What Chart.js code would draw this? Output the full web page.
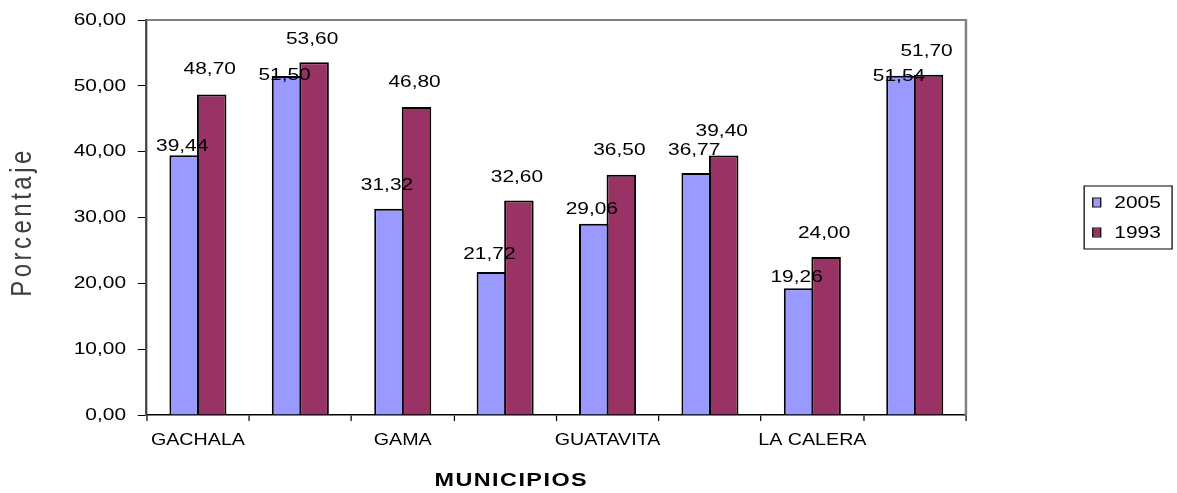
<!DOCTYPE html>
<html>
<head>
<meta charset="utf-8">
<script src="https://cdn.jsdelivr.net/npm/chart.js@4.4.1/dist/chart.umd.min.js"></script>
<style>
  html, body { margin: 0; padding: 0; background: #fff; }
  canvas { display: block; }
</style>
</head>
<body>
<canvas id="chart" width="957" height="493"></canvas>
<script>
// municipios del Guavio - only every second name fits on the axis
const municipios = ['GACHALA', 'GACHETA', 'GAMA', 'GUASCA', 'GUATAVITA', 'JUNIN', 'LA CALERA', 'UBALA'];
const serie2005 = [39.44, 51.50, 31.32, 21.72, 29.06, 36.77, 19.26, 51.54];
const serie1993 = [48.70, 53.60, 46.80, 32.60, 36.50, 39.40, 24.00, 51.70];
const yTicks = [0, 10, 20, 30, 40, 50, 60];

const FONT = '"Liberation Sans", Arial, sans-serif';
const PAGE_W = 1177;
const fmt = v => v.toFixed(2).replace('.', ',');

Chart.defaults.font.family = FONT;
Chart.defaults.color = '#000';

// the original excel picture is stretched sideways, so we lay the chart out
// narrower and stretch the drawing to the page width
const stretch = {
    id: 'stretch',
    beforeDraw(chart) {
        const sx = chart.canvas.width / chart.width;
        chart.ctx.setTransform(sx, 0, 0, 1, 0, 0);
    }
};

// grey frame on top and right of the plot
const frame = {
    id: 'frame',
    beforeDatasetsDraw(chart) {
        const { ctx, chartArea: a } = chart;
        ctx.save();
        ctx.strokeStyle = '#808080';
        ctx.lineWidth = 2;
        ctx.beginPath();
        ctx.moveTo(a.left, a.top);
        ctx.lineTo(a.right, a.top);
        ctx.lineTo(a.right, a.bottom);
        ctx.stroke();
        ctx.restore();
    }
};

// value labels over the bars
const barLabels = {
    id: 'barLabels',
    afterDatasetsDraw(chart, args, opts) {
        const ctx = chart.ctx;
        ctx.save();
        ctx.font = '17px ' + FONT;
        ctx.fillStyle = '#000';
        ctx.textAlign = 'center';
        ctx.textBaseline = 'middle';
        chart.data.datasets.forEach((ds, i) => {
            chart.getDatasetMeta(i).data.forEach((bar, j) => {
                ctx.fillText(fmt(ds.data[j]), bar.x - 1.6, bar.y - opts.lift[i][j]);
            });
        });
        ctx.restore();
    }
};

// axis titles and the boxed legend, drawn by hand
const extras = {
    id: 'extras',
    afterDraw(chart) {
        const { ctx, chartArea: a } = chart;
        ctx.save();
        ctx.textBaseline = 'middle';
        ctx.textAlign = 'center';

        ctx.fillStyle = '#000';
        ctx.font = 'bold 19px ' + FONT;
        ctx.letterSpacing = '1.2px';
        ctx.fillText('MUNICIPIOS', a.left + (a.right - a.left) * 0.445, 481);

        ctx.save();
        ctx.translate(18.7, 222);
        ctx.rotate(-Math.PI / 2);
        ctx.fillStyle = '#404040';
        ctx.font = '24px ' + FONT;
        ctx.letterSpacing = '3.5px';
        ctx.fillText('Porcentaje', 0, 0);
        ctx.restore();

        // legend
        ctx.letterSpacing = '0px';
        ctx.font = '17px ' + FONT;
        ctx.textAlign = 'left';
        const lx = chart.width - 76, cy = (a.top + a.bottom) / 2;
        ctx.strokeStyle = '#000';
        ctx.lineWidth = 1;
        ctx.strokeRect(lx + 0.5, cy - 31.5, 71.5, 63);
        chart.data.datasets.forEach((ds, i) => {
            const y = cy - 15 + i * 30;
            ctx.fillStyle = ds.backgroundColor;
            ctx.fillRect(lx + 7.5, y - 4, 6.5, 8);
            ctx.strokeRect(lx + 7.5, y - 4.5, 6.5, 9);
            ctx.fillStyle = '#000';
            ctx.fillText(ds.label, lx + 25, y + 1);
        });
        ctx.restore();
    }
};

const canvas = document.getElementById('chart');
const chart = new Chart(canvas, {
    type: 'bar',
    data: {
        labels: municipios,
        datasets: [{
            label: '2005',
            data: serie2005,
            backgroundColor: '#9999FF'
        }, {
            label: '1993',
            data: serie1993,
            backgroundColor: '#993366'
        }]
    },
    options: {
        responsive: false,
        animation: false,
        layout: { padding: { top: 20, right: 171.6, bottom: 0, left: 0 } },
        // bars overlap by one border so the pair shares a single black line
        datasets: {
            bar: {
                categoryPercentage: 0.538,
                barPercentage: 1.071,
                borderColor: '#000',
                borderWidth: { top: 2, left: 1.6, right: 1.6, bottom: 0 }
            }
        },
        scales: {
            x: {
                grid: { drawOnChartArea: false, offset: true, color: '#000', tickLength: 6 },
                border: { color: '#000', width: 1.5 },
                ticks: {
                    font: { size: 16 },
                    padding: 10,
                    maxRotation: 0,
                    autoSkip: false,
                    callback: (v, i) => (i % 2 ? '' : municipios[i])
                },
                afterFit: s => { s.height = 78; }
            },
            y: {
                min: 0,
                max: 60,
                afterBuildTicks: s => { s.ticks = yTicks.map(v => ({ value: v })); },
                grid: { drawOnChartArea: false, color: '#000', tickLength: 7.3 },
                border: { color: '#404040', width: 1.8 },
                ticks: { font: { size: 17 }, padding: 9.5, callback: v => fmt(v) },
                afterFit: s => { s.width = 119.3; }
            }
        },
        plugins: {
            legend: { display: false },
            tooltip: { enabled: false },
            barLabels: {
                lift: [
                    [9, 1, 23, 18, 14, 23, 11, -1],
                    [25, 23, 25, 23, 24, 24, 24, 23]
                ]
            }
        }
    },
    plugins: [stretch, frame, barLabels, extras]
});

// widen the backing store to the page and redraw with the stretch
canvas.width = PAGE_W;
canvas.style.width = PAGE_W + 'px';
chart.draw();
</script>
</body>
</html>
